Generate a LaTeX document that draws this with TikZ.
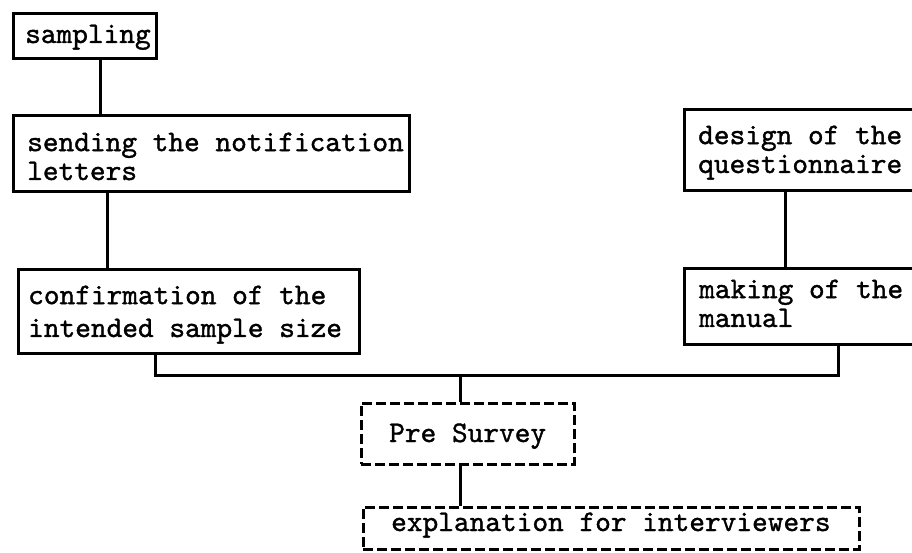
\documentclass[tikz,border=0pt]{standalone}
\usepackage{fontspec}
\newfontfamily\twfont{lmmono10-regular.otf}[FakeBold=1.2]
\begin{document}
\begin{tikzpicture}[x=1bp,y=-1bp,
  box/.style={draw, line width=3bp, inner sep=0pt, anchor=north west},
  dbox/.style={draw, line width=2.6bp, dash pattern=on 10bp off 4bp, inner sep=0pt, anchor=north west},
  txt/.style={inner sep=0pt, anchor=base west, align=left, font=\twfont\fontsize{30}{29}\selectfont},
  conn/.style={line width=3bp}]
\useasboundingbox (0,0) rectangle (912,553);
\clip (0,0) rectangle (912,553);
\fill[white] (0,0) rectangle (912,553);
% boxes
\node[box, minimum width=143bp, minimum height=45bp] (samp) at (12,12) {};
\node[box, minimum width=396bp, minimum height=76bp] (send) at (12,114) {};
\node[box, minimum width=341bp, minimum height=84bp] (conf) at (17,268) {};
\node[box, minimum width=250bp, minimum height=81bp] (des) at (683,108) {};
\node[box, minimum width=250bp, minimum height=76bp] (man) at (683,267) {};
\node[dbox, minimum width=213bp, minimum height=61bp] (pre) at (360,402) {};
\node[dbox, minimum width=496bp, minimum height=42bp] (expl) at (362,506) {};
% texts (base = baseline of the last line)
\node[txt] (tsamp) at (25,43) {sampling};
\node[txt] (tsend) at (27,180) {sending the notification\\letters};
\node[txt, font=\twfont\fontsize{30}{33}\selectfont] (tconf) at (28,337) {confirmation of the\\intended sample size};
\node[txt] (tdes) at (698,173) {design of the\\questionnaire};
\node[txt] (tman) at (699,327) {making of the\\manual};
\node[txt] (tpre) at (389,442) {Pre Survey};
\node[txt] (texpl) at (391,531) {explanation for interviewers};
% connector x positions
\coordinate (c1) at (100,0);
\coordinate (c2) at (107,0);
\coordinate (c3) at (785,0);
\coordinate (cl) at (155,0);
\coordinate (cr) at (838,0);
\coordinate (cm) at (460,0);
\coordinate (hy) at (0,375);
\draw[conn] (samp.south -| c1) -- (send.north -| c1);
\draw[conn] (send.south -| c2) -- (conf.north -| c2);
\draw[conn] (des.south -| c3) -- (man.north -| c3);
\draw[conn] (conf.south -| cl) -- (cl |- hy) -- (cr |- hy) -- (man.south -| cr);
\draw[conn] (cm |- hy) -- (pre.north -| cm);
\draw[conn] (pre.south -| cm) -- (expl.north -| cm);
\end{tikzpicture}
\end{document}
